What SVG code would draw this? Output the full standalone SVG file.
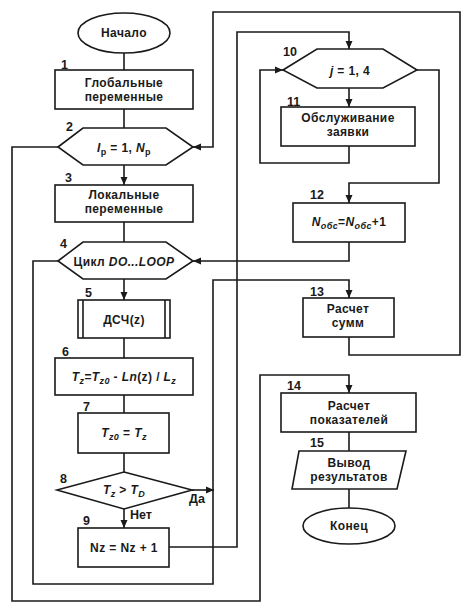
<svg xmlns="http://www.w3.org/2000/svg" width="469" height="609" viewBox="0 0 469 609">
<defs>
<marker id="arr" markerUnits="userSpaceOnUse" markerWidth="9" markerHeight="8" refX="8" refY="4" orient="auto">
<path d="M0,0.5 L8,4 L0,7.5 z" fill="#1a1a1a"/>
</marker>
<style>
.shape{fill:#fff;stroke:#1a1a1a;stroke-width:1.6}
.line{fill:none;stroke:#1a1a1a;stroke-width:1.6}
.arrow{fill:none;stroke:#1a1a1a;stroke-width:1.6;marker-end:url(#arr)}
text{font-family:"Liberation Sans",Arial,sans-serif;font-weight:bold;fill:#1a1a1a}
.t{font-size:12px;text-anchor:middle;letter-spacing:0.4px}
.n{font-size:12.5px}
.i{font-style:italic}
.s{font-size:9px}
</style>
</defs>
<rect width="469" height="609" fill="#fff"/>
<g id="connectors">
<path class="line" d="M124,53 V70"/>
<path class="line" d="M124,109 V128"/>
<path class="arrow" d="M124,165 V185"/>
<path class="line" d="M124,222 V242"/>
<path class="arrow" d="M124,279 V300"/>
<path class="line" d="M124,338 V358"/>
<path class="line" d="M124,395 V413"/>
<path class="line" d="M124,453 V472"/>
<path class="arrow" d="M124,509 V528"/>
<path class="arrow" d="M169,547 H237 V32 H349 V49"/>
<path class="arrow" d="M349,88 V107"/>
<path class="arrow" d="M349,146 V163 H260 V70 H283"/>
<path class="arrow" d="M417,70 H439 V183 H349 V203"/>
<path class="arrow" d="M349,242 V261 H193"/>
<path class="arrow" d="M58,261 H33 V584 H213 V280 H349 V298"/>
<path class="arrow" d="M192,490 H214"/>
<path class="arrow" d="M349,337 V355 H460 V12 H213 V147 H193"/>
<path class="arrow" d="M58,147 H12 V601 H260 V375 H349 V393"/>
<path class="line" d="M349,432 V451"/>
<path class="line" d="M349,489 V508"/>
<text x="189" y="503" class="n">Да</text>
<text x="130" y="519" class="n">Нет</text>
</g>
<g id="start">
<ellipse class="shape" cx="124" cy="33" rx="46" ry="20"/>
<text class="t" x="124" y="37">Начало</text>
</g>
<g id="node1">
<rect class="shape" x="55" y="70" width="138" height="39"/>
<text class="n" x="61" y="69">1</text>
<text class="t" x="124" y="87">Глобальные</text>
<text class="t" x="124" y="101">переменные</text>
</g>
<g id="node2">
<polygon class="shape" points="58,147 83,128 166,128 193,147 166,165 83,165"/>
<text class="n" x="66" y="131">2</text>
<text class="t" x="124" y="152"><tspan class="i">I</tspan><tspan class="s" dy="3">p</tspan><tspan dy="-3"> = 1, </tspan><tspan class="i">N</tspan><tspan class="s" dy="3">p</tspan></text>
</g>
<g id="node3">
<rect class="shape" x="55" y="185" width="138" height="37"/>
<text class="n" x="65" y="182">3</text>
<text class="t" x="124" y="199">Локальные</text>
<text class="t" x="124" y="213">переменные</text>
</g>
<g id="node4">
<polygon class="shape" points="58,261 83,242 166,242 193,261 166,279 83,279"/>
<text class="n" x="60" y="248">4</text>
<text class="t" x="124" y="266">Цикл <tspan class="i">DO...LOOP</tspan></text>
</g>
<g id="node5">
<rect class="shape" x="78" y="300" width="92" height="38"/>
<path class="line" d="M83,300 V338 M165,300 V338"/>
<text class="n" x="85" y="297">5</text>
<text class="t" x="124" y="324">ДСЧ(z)</text>
</g>
<g id="node6">
<rect class="shape" x="55" y="358" width="138" height="37"/>
<text class="n" x="62" y="356">6</text>
<text class="t" x="124" y="381"><tspan class="i">T</tspan><tspan class="s i" dy="3">z</tspan><tspan dy="-3">=</tspan><tspan class="i">T</tspan><tspan class="s i" dy="3">z0</tspan><tspan dy="-3"> - </tspan><tspan class="i">Ln</tspan>(z) / <tspan class="i">L</tspan><tspan class="s i" dy="3">z</tspan></text>
</g>
<g id="node7">
<rect class="shape" x="78" y="413" width="91" height="40"/>
<text class="n" x="83" y="411">7</text>
<text class="t" x="124" y="437"><tspan class="i">T</tspan><tspan class="s i" dy="3">z0</tspan><tspan dy="-3"> = </tspan><tspan class="i">T</tspan><tspan class="s i" dy="3">z</tspan></text>
</g>
<g id="node8">
<polygon class="shape" points="124,472 192,490 124,509 57,490"/>
<text class="n" x="60" y="483">8</text>
<text class="t" x="124" y="494"><tspan class="i">T</tspan><tspan class="s i" dy="3">z</tspan><tspan dy="-3"> &gt; </tspan><tspan class="i">T</tspan><tspan class="s i" dy="3">D</tspan></text>
</g>
<g id="node9">
<rect class="shape" x="78" y="528" width="91" height="39"/>
<text class="n" x="83" y="525">9</text>
<text class="t" x="124" y="552">Nz = Nz + 1</text>
</g>
<g id="node10">
<polygon class="shape" points="283,70 317,49 383,49 417,70 383,88 317,88"/>
<text class="n" x="283" y="56">10</text>
<text class="t" x="350" y="75"><tspan class="i">j</tspan> = 1, 4</text>
</g>
<g id="node11">
<rect class="shape" x="281" y="107" width="134" height="39"/>
<text class="n" x="287" y="106">11</text>
<text class="t" x="348" y="122">Обслуживание</text>
<text class="t" x="348" y="136">заявки</text>
</g>
<g id="node12">
<rect class="shape" x="293" y="203" width="112" height="39"/>
<text class="n" x="310" y="199">12</text>
<text class="t" x="349" y="226"><tspan class="i">N</tspan><tspan class="s i" dy="3">обс</tspan><tspan dy="-3">=</tspan><tspan class="i">N</tspan><tspan class="s i" dy="3">обс</tspan><tspan dy="-3">+1</tspan></text>
</g>
<g id="node13">
<rect class="shape" x="303" y="298" width="91" height="39"/>
<text class="n" x="310" y="296">13</text>
<text class="t" x="348" y="313">Расчет</text>
<text class="t" x="348" y="327">сумм</text>
</g>
<g id="node14">
<rect class="shape" x="281" y="393" width="135" height="39"/>
<text class="n" x="287" y="390">14</text>
<text class="t" x="349" y="410">Расчет</text>
<text class="t" x="349" y="424">показателей</text>
</g>
<g id="node15">
<polygon class="shape" points="299,451 406,451 397,489 292,489"/>
<text class="n" x="310" y="447">15</text>
<text class="t" x="349" y="467">Вывод</text>
<text class="t" x="349" y="481">результатов</text>
</g>
<g id="end">
<ellipse class="shape" cx="349" cy="526" rx="46" ry="18"/>
<text class="t" x="349" y="530">Конец</text>
</g>
</svg>
